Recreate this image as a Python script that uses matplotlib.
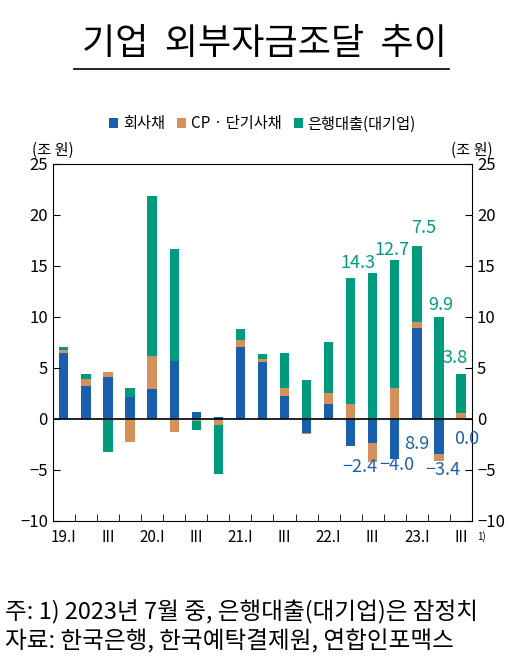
import numpy as np
import matplotlib
matplotlib.use('Agg')
import matplotlib.pyplot as plt

plt.rcParams['font.family'] = ['Noto Sans CJK KR', 'DejaVu Sans']

quarters = ['19.I', '', 'III', '', '20.I', '', 'III', '', '21.I', '', 'III', '',
            '22.I', '', 'III', '', '23.I', '', 'III']
bonds = [6.5, 3.25, 4.1, 2.1, 2.9, 5.7, 0.7, 0.2, 7.0, 5.6, 2.2, -1.35,
         1.5, -2.7, -2.35, -3.9, 8.9, -3.4, 0.0]
cp = [0.3, 0.65, 0.5, -2.3, 3.3, -1.3, -0.25, -0.6, 0.7, 0.3, 0.8, -0.1,
      1.0, 1.5, -1.85, 3.0, 0.6, -0.7, 0.6]
loans = [0.2, 0.45, -3.3, 0.9, 15.7, 11.0, -0.8, -4.8, 1.1, 0.5, 3.5, 3.8,
         5.0, 12.3, 14.35, 12.6, 7.5, 10.0, 3.75]

# value labels: (text, x position, y position)
green_labels = [('14.3', 13.35, 14.4), ('12.7', 14.85, 15.7), ('7.5', 16.3, 17.8),
                ('9.9', 17.1, 10.3), ('3.8', 17.75, 5.1)]
blue_labels = [('\u22122.4', 13.4, -4.7), ('\u22124.0', 15.1, -4.5), ('8.9', 16.0, -2.5),
               ('\u22123.4', 17.2, -5.0), ('0.0', 18.25, -2.0)]

blue, orange, green = '#1a5fad', '#d4915a', '#009b7d'

fig = plt.figure(figsize=(5.28, 6.72), dpi=100)
ax = fig.add_axes([0.100, 0.225, 0.794, 0.531])

x = np.arange(len(bonds))
w = 0.42
pos_base = np.zeros(len(x))
neg_base = np.zeros(len(x))
for vals, col, lab in [(bonds, blue, '회사채'), (cp, orange, 'CP · 단기사채'),
                       (loans, green, '은행대출(대기업)')]:
    v = np.array(vals)
    base = np.where(v >= 0, pos_base, neg_base)
    ax.bar(x, v, w, bottom=base, color=col, label=lab, edgecolor='none')
    pos_base = pos_base + np.where(v > 0, v, 0)
    neg_base = neg_base + np.where(v < 0, v, 0)

ax.axhline(0, color='black', lw=1.2)
ax.set_xlim(-0.5, 18.5)
ax.set_ylim(-10, 25)
ax.set_yticks(range(-10, 26, 5))
ax.tick_params(axis='y', direction='in', labelsize=12, length=5, right=True, labelright=True)
ax.set_xticks(x)
ax.set_xticklabels(quarters, fontsize=11)
ax.set_xticks(np.arange(0.5, 18.5, 1), minor=True)
ax.tick_params(axis='x', which='major', length=0, pad=6)
ax.tick_params(axis='x', which='minor', direction='in', length=5)
ax.text(18.75, -11.9, '1)', fontsize=7)

for t, xx, yy in green_labels:
    ax.text(xx, yy, t, color=green, fontsize=13, ha='center', va='bottom')
for t, xx, yy in blue_labels:
    ax.text(xx, yy, t, color=blue, fontsize=13, ha='center', va='center')

ax.text(0.0, 1.025, '(조 원)', transform=ax.transAxes, fontsize=11, ha='center')
ax.text(1.0, 1.025, '(조 원)', transform=ax.transAxes, fontsize=11, ha='center')

ax.legend(loc='lower center', bbox_to_anchor=(0.5, 1.05), ncol=3, frameon=False,
          fontsize=11, handlelength=0.6, handleheight=0.6, columnspacing=0.8,
          handletextpad=0.3)

fig.text(0.5, 0.935, '기업  외부자금조달  추이', fontsize=26, ha='center', va='center')
fig.add_artist(plt.Line2D([0.14, 0.85], [0.898, 0.898], color='black', lw=1.2))

fig.text(0.01, 0.089, '주: 1) 2023년 7월 중, 은행대출(대기업)은 잠정치', fontsize=17, va='center')
fig.text(0.01, 0.046, '자료: 한국은행, 한국예탁결제원, 연합인포맥스', fontsize=17, va='center')

fig.savefig('out.png', dpi=100)
